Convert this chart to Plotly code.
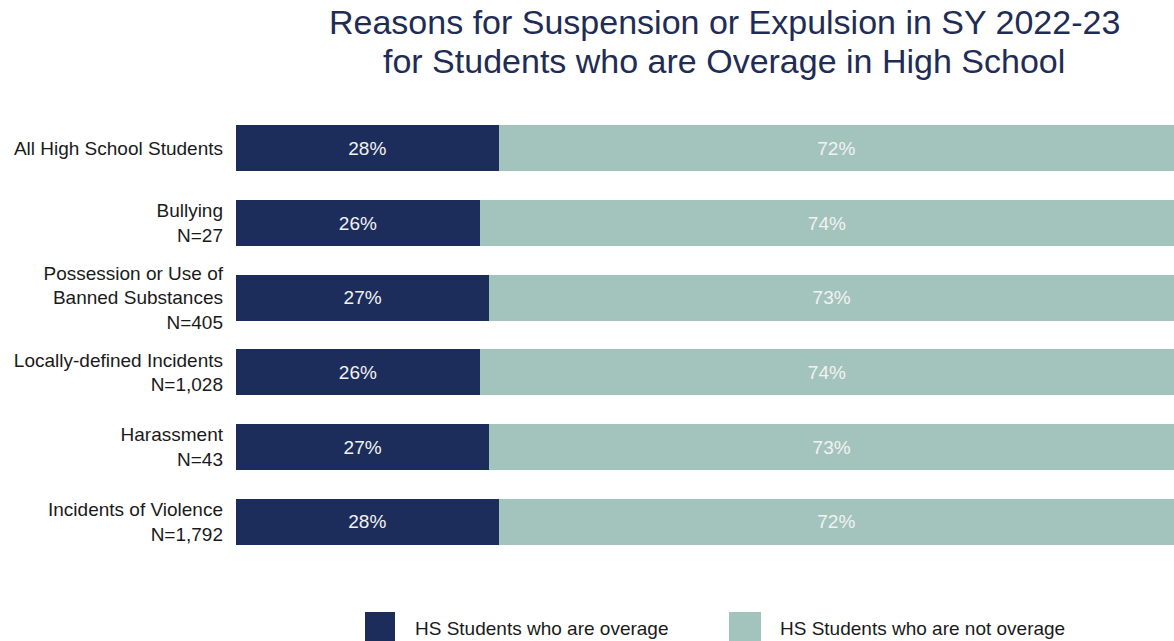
import plotly.graph_objects as go

# Reasons for suspension/expulsion, SY 2022-23 (share of HS students, %)
categories = [
    "All High School Students",
    "Bullying<br>N=27",
    "Possession or Use of<br>Banned Substances<br>N=405",
    "Locally-defined Incidents<br>N=1,028",
    "Harassment<br>N=43",
    "Incidents of Violence<br>N=1,792",
]
overage = [28, 26, 27, 26, 27, 28]
not_overage = [72, 74, 73, 74, 73, 72]
series_names = ["HS Students who are overage", "HS Students who are not overage"]
title_lines = [
    "Reasons for Suspension or Expulsion in SY 2022-23",
    "for Students who are Overage in High School",
]

NAVY = "#1c2d5b"
TEAL = "#a3c4bc"
FONT = "Arial, Liberation Sans, sans-serif"

fig = go.Figure()
for name, vals, color in [(series_names[0], overage, NAVY), (series_names[1], not_overage, TEAL)]:
    fig.add_trace(go.Bar(
        y=categories, x=vals, name=name, orientation="h",
        marker=dict(color=color, line=dict(width=0)),
        width=0.62,
        text=[f"{v}%" for v in vals], textposition="inside",
        insidetextanchor="middle",
        textfont=dict(family=FONT, size=19, color="#f2f2f2"),
        showlegend=False, hoverinfo="skip",
    ))

# Page geometry (pixels) used to place the title and the legend
W, H = 1174, 641
L, R, T, B = 236, 0, 111, 82
pw, ph = W - L - R, H - T - B


def px_x(x):
    return (x - L) / pw


def px_y(y):
    return (H - B - y) / ph


shapes, annotations = [], []

# Two-line title, centred to the right of the axis labels
for line, yc in zip(title_lines, [22, 61]):
    annotations.append(dict(xref="paper", yref="paper", x=px_x(724), y=px_y(yc),
                            xanchor="center", yanchor="middle", showarrow=False,
                            text=line, font=dict(family=FONT, size=34, color="#1f2c55")))

# Legend with large square swatches below the plot
legend_items = [(365, 395, 413, NAVY, series_names[0]), (729, 761, 778, TEAL, series_names[1])]
for x0, x1, tx, color, label in legend_items:
    shapes.append(dict(type="rect", xref="paper", yref="paper",
                       x0=px_x(x0), x1=px_x(x1), y0=px_y(645), y1=px_y(612),
                       fillcolor=color, line=dict(width=0), layer="above"))
    annotations.append(dict(xref="paper", yref="paper", x=px_x(tx), y=px_y(628),
                            xanchor="left", yanchor="middle", showarrow=False,
                            text=label, font=dict(family=FONT, size=19, color="#1a1a1a")))

fig.update_layout(
    barmode="stack",
    width=W, height=H,
    margin=dict(l=L, r=R, t=T, b=B),
    paper_bgcolor="white", plot_bgcolor="white",
    xaxis=dict(range=[0, 100], visible=False, fixedrange=True),
    yaxis=dict(autorange="reversed", showgrid=False, zeroline=False, showline=False,
               ticks="", ticklabelstandoff=12,
               tickfont=dict(family=FONT, size=19, color="#1a1a1a")),
    shapes=shapes,
    annotations=annotations,
    showlegend=False,
)

fig.write_html("out.html")
